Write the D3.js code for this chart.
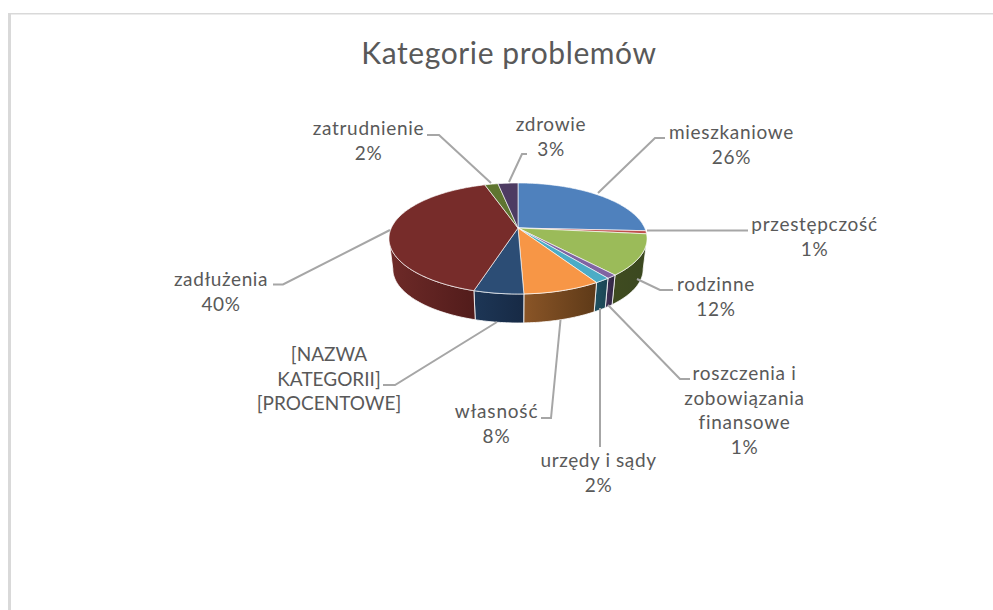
<!DOCTYPE html>
<html>
<head>
<meta charset="utf-8">
<script src="https://d3js.org/d3.v7.min.js"></script>
<style>
  html, body { margin: 0; padding: 0; background: #fff; }
  text { font-family: Lato, sans-serif; fill: #595959; }
</style>
</head>
<body>
<svg id="chart" width="993" height="610"></svg>
<script>
var title = "Kategorie problemów";
var categories = ["mieszkaniowe", "przestępczość", "rodzinne", "roszczenia i zobowiązania finansowe", "urzędy i sądy", "własność", "[NAZWA KATEGORII]", "zadłużenia", "zatrudnienie", "zdrowie"];
var values = [25.8, 0.9, 11.9, 1.1, 1.6, 8.1, 5.2, 40.4, 2, 3];
var topColors = ["#4f81bd", "#c0504d", "#9bbb59", "#8064a2", "#4bacc6", "#f79646", "#2c4d75", "#772c2a", "#5f7530", "#4d3b62"];
var wallLeft = ["#3a5f8c", "#8f3b39", "#3f4b20", "#3d2f52", "#1f5060", "#8a5527", "#1d3656", "#6e2a28", "#47581f", "#3a2c4a"];
var wallRight = ["#2f4d72", "#7a3230", "#3b4820", "#2f2440", "#1a4452", "#5e3a18", "#172a45", "#521c1b", "#3a4819", "#2e233b"];
var labelLines = [["mieszkaniowe", "26%"], ["przestępczość", "1%"], ["rodzinne", "12%"], ["roszczenia i", "zobowiązania", "finansowe", "1%"], ["urzędy i sądy", "2%"], ["własność", "8%"], ["[NAZWA", "KATEGORII]", "[PROCENTOWE]"], ["zadłużenia", "40%"], ["zatrudnienie", "2%"], ["zdrowie", "3%"]];

var svg = d3.select("#chart");

// frame of the chart area, cut at the top and left like the screenshot
svg.append("rect").attr("x", 8).attr("y", 13).attr("width", 985).attr("height", 1.5).attr("fill", "#d9d9d9");
svg.append("rect").attr("x", 8).attr("y", 13).attr("width", 3).attr("height", 597).attr("fill", "#d9d9d9");

svg.append("text").attr("x", 509).attr("y", 64).attr("text-anchor", "middle")
  .style("font-size", "30px").style("letter-spacing", "0.6px").text(title);

// tilted disc: perspective map from pie angle to the page
var cx = 518, cy = 228, rx = 126.7, ry = 53.5, persp = -0.189;
function project(a) {
  var u = Math.sin(a), v = -Math.cos(a), k = 1 + persp * v;
  return [cx + rx * u / k, cy + ry * v / k];
}
function projectLow(a) {
  var p = project(a);
  return [cx + (p[0] - cx) * 0.97, cy + 31 + (p[1] - cy) * 0.97];
}
function arcPoints(a0, a1, fn) {
  var n = Math.max(2, Math.ceil((a1 - a0) / 0.02));
  return d3.range(n + 1).map(function(i) { return fn(a0 + (a1 - a0) * i / n); });
}

var arcs = d3.pie().sort(null)(values);
var line = d3.line();
var defs = svg.append("defs");

// silhouette of the disc: the walls show only between these two angles
var wallStart = Math.acos(persp), wallEnd = 2 * Math.PI - wallStart;

arcs.forEach(function(d, i) {
  var a0 = Math.max(d.startAngle, wallStart), a1 = Math.min(d.endAngle, wallEnd);
  if (a1 <= a0) return;
  var upper = arcPoints(a0, a1, project), lower = arcPoints(a0, a1, projectLow).reverse();
  var grad = defs.append("linearGradient").attr("id", "wall" + i).attr("gradientUnits", "userSpaceOnUse")
    .attr("x1", Math.min(upper[0][0], upper[upper.length - 1][0])).attr("x2", Math.max(upper[0][0], upper[upper.length - 1][0]))
    .attr("y1", 0).attr("y2", 0);
  grad.append("stop").attr("offset", 0).attr("stop-color", wallLeft[i]);
  grad.append("stop").attr("offset", 1).attr("stop-color", wallRight[i]);
  svg.append("path").attr("d", line(upper.concat(lower)) + "Z")
    .attr("fill", "url(#wall" + i + ")").attr("stroke", "#fff").attr("stroke-width", 0.8);
});

arcs.forEach(function(d, i) {
  var pts = [[cx, cy]].concat(arcPoints(d.startAngle, d.endAngle, project));
  svg.append("path").attr("d", line(pts) + "Z")
    .attr("fill", topColors[i]).attr("stroke", "#fff").attr("stroke-width", 0.8).attr("stroke-opacity", 0.8);
});

// leader lines
var leaders = [
  [[598, 193], [655, 138], [665, 138]],
  [[647, 230.5], [748, 230.5]],
  [[637, 279], [660, 290], [673, 290]],
  [[608, 305], [680, 379], [690, 379]],
  [[600, 308], [600, 447]],
  [[560.5, 320], [551, 418], [541, 418]],
  [[497, 322], [395, 385], [383, 385]],
  [[390, 230], [283, 284.5], [273, 284.5]],
  [[491, 183], [439, 135], [427, 135]],
  [[509, 182], [522, 154], [527, 154]]
];
svg.selectAll("path.leader").data(leaders).enter().append("path").attr("class", "leader")
  .attr("d", line).attr("fill", "none").attr("stroke", "#a6a6a6").attr("stroke-width", 2);

// label centre x, first baseline and letter spacing, one per category
var labelX = [731.5, 814.5, 716, 744.5, 598.5, 496.5, 329, 221, 368.5, 551];
var labelY = [139, 231, 291, 380, 467, 418, 361, 286, 135, 131];
var labelSpacing = [0.7, 0.7, 0.7, 0.7, 0.6, 0.8, 0, 0.6, 0.7, 0.7];
var lineStep = 24.7;
labelLines.forEach(function(lines, i) {
  var t = svg.append("text").attr("text-anchor", "middle").style("font-size", "19px")
    .style("letter-spacing", labelSpacing[i] + "px");
  lines.forEach(function(s, j) {
    t.append("tspan").attr("x", labelX[i]).attr("y", labelY[i] + j * lineStep).text(s);
  });
});
</script>
</body>
</html>
